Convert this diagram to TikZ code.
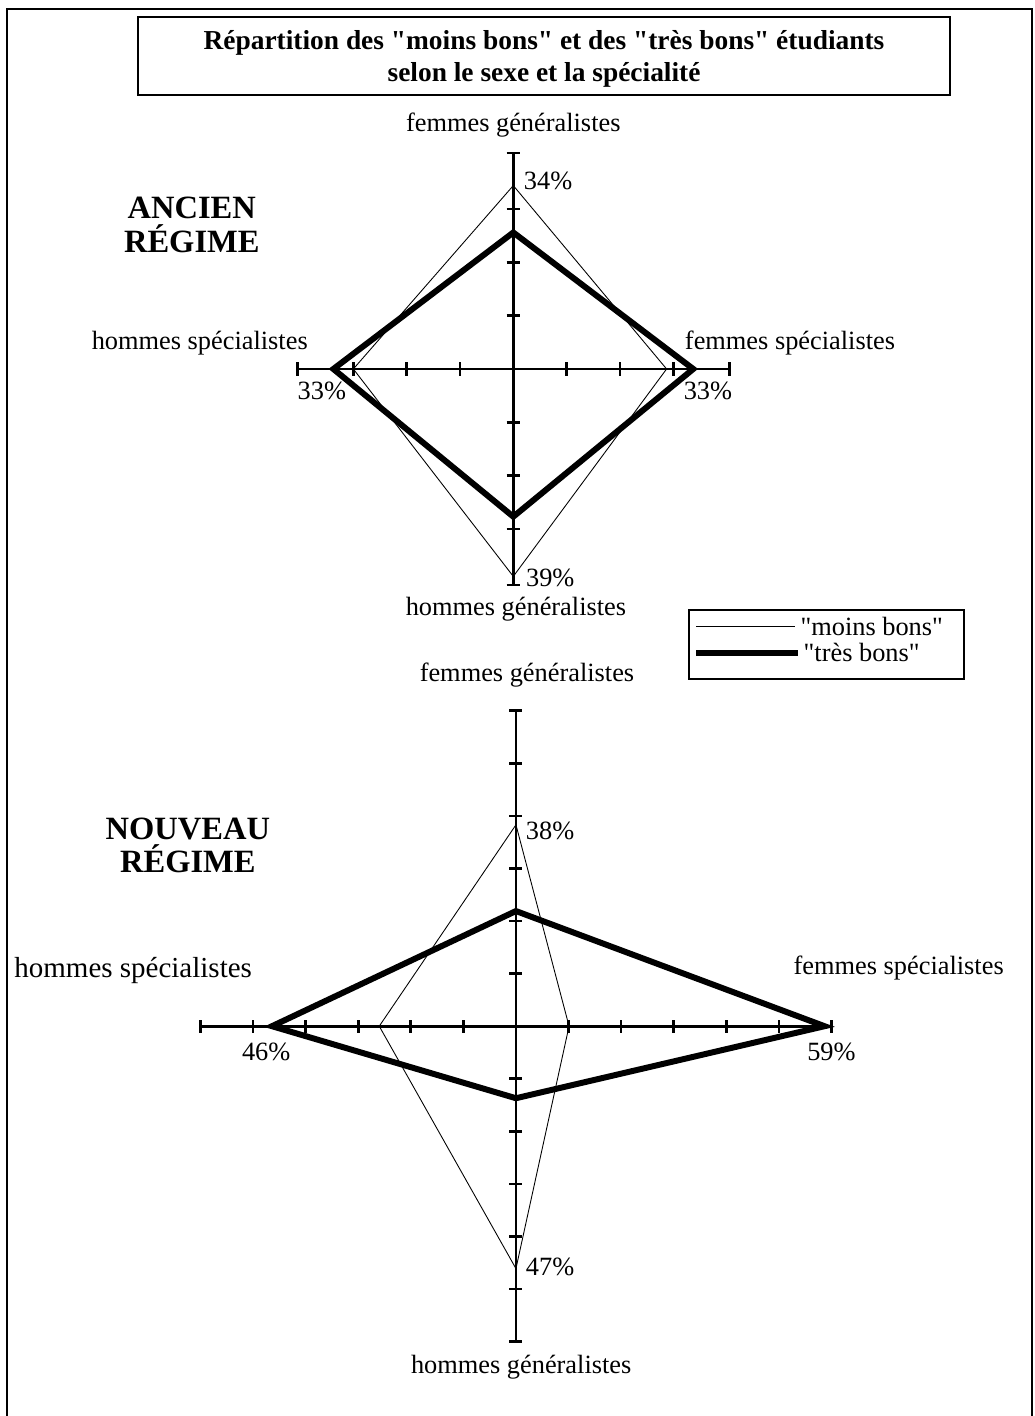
\documentclass[tikz,border=0pt]{standalone}
\usepackage{fontspec}
\setmainfont{Liberation Serif}[Ligatures=TeXOff]
\usetikzlibrary{positioning}

\begin{document}
\begin{tikzpicture}[x=1.06cm, y=1.06cm,
    axe/.style={line width=1.5pt},
    moins/.style={line width=0.5pt},
    tres/.style={line width=3.4pt},
    lbl/.style={font=\fontsize{15}{18}\selectfont, inner sep=1pt},
    pct/.style={lbl, anchor=west},
    regime/.style={font=\bfseries\fontsize{18.5}{19}\selectfont, align=center, inner sep=1pt}
]
\useasboundingbox (-9.685, 6.962) rectangle (9.843, -19.755);
% cadre
\draw[line width=1.4pt] (-9.55, -20) -- (-9.55, 6.79) -- (9.79, 6.79) -- (9.79, -20);
% titre
\draw[line width=1.3pt] (-7.08, 6.64) rectangle (8.24, 5.17);
\node[font=\bfseries\fontsize{15.6}{18}\selectfont, align=center] (titre) at (0.58, 5.85)
    {R\'epartition des "moins bons" et des "tr\`es bons" \'etudiants\\selon le sexe et la sp\'ecialit\'e};

\begin{scope}[shift={(0, 0)}, scale=1.006]
    \node[regime] (ancien) at (-6.03, 2.70) {ANCIEN\\R\'EGIME};
    \node[lbl] (afg) at (0, 4.58) {femmes g\'en\'eralistes};
    \node[lbl] (ahg) at (0.05, -4.5) {hommes g\'en\'eralistes};
    \node[lbl] (ahs) at (-5.88, 0.49) {hommes sp\'ecialistes};
    \node[lbl] (afs) at (5.19, 0.49) {femmes sp\'ecialistes};
    \draw[axe] (-4.05, 0) -- (4.05, 0);
    \draw[axe] (0, -4.05) -- (0, 4.05);
    \foreach \t in {-4.05, -3, -2, -1, 1, 2, 3, 4.05} {
        \draw[axe] (\t, -0.123) -- (\t, 0.123);
        \draw[axe] (-0.123, \t) -- (0.123, \t);
    }
    \draw[moins] (0, 3.44) -- (2.875, 0) -- (0, -3.89) -- (-3.0, 0) -- cycle;
    \draw[tres] (0, 2.56) -- (3.375, 0) -- (0, -2.77) -- (-3.375, 0) -- cycle;
    \node[pct] (a34) at (0.16, 3.53) {34\%};
    \node[pct] (a39) at (0.2, -3.92) {39\%};
    \node[lbl] (a33g) at (-3.59, -0.41) {33\%};
    \node[lbl] (a33d) at (3.65, -0.41) {33\%};
\end{scope}

\begin{scope}[shift={(0.05, -12.4)}, scale=0.992]
    \node[regime] (nouveau) at (-6.24, 3.44) {NOUVEAU\\R\'EGIME};
    \node[lbl] (nfg) at (0.21, 6.67) {femmes g\'en\'eralistes};
    \node[lbl] (nhg) at (0.1, -6.48) {hommes g\'en\'eralistes};
    \node[lbl, font=\fontsize{16.5}{18}\selectfont] (nhs) at (-7.28, 1.06) {hommes sp\'ecialistes};
    \node[lbl] (nfs) at (7.28, 1.10) {femmes sp\'ecialistes};
    \draw[axe] (-6, 0) -- (6, 0);
    \draw[axe] (0, -6) -- (0, 6);
    \foreach \t in {-6, ..., -1, 1, 2, ..., 6} {
        \draw[axe] (\t, -0.123) -- (\t, 0.123);
        \draw[axe] (-0.123, \t) -- (0.123, \t);
    }
    \draw[moins] (0, 3.83) -- (1.01, 0) -- (0, -4.61) -- (-2.6, 0) -- cycle;
    \draw[tres] (0, 2.19) -- (5.87, 0) -- (0, -1.37) -- (-4.64, 0) -- cycle;
    \node[pct] (n38) at (0.15, 3.72) {38\%};
    \node[pct] (n47) at (0.15, -4.58) {47\%};
    \node[lbl] (n46) at (-4.75, -0.49) {46\%};
    \node[lbl] (n59) at (6.0, -0.49) {59\%};
\end{scope}

% legende
\draw[line width=1.1pt] (3.31, -4.54) rectangle (8.50, -5.85);
\coordinate (lg1) at (3.45, -4.86);
\coordinate (lg2) at (3.45, -5.35);
\node[pct] (lmoins) at (5.38, -4.86) {"moins bons"};
\node[pct] (ltres) at (5.44, -5.35) {"tr\`es bons"};
\draw[moins] (lg1) -- ([xshift=-2pt]lmoins.west);
\draw[tres] (lg2) -- ([xshift=-2pt]ltres.west);
\end{tikzpicture}
\end{document}
